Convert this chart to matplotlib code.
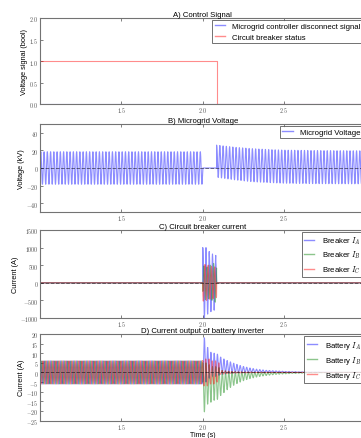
import numpy as np
import matplotlib
matplotlib.use("Agg")
from matplotlib import pyplot as plt
from matplotlib.ticker import FuncFormatter

plt.rcParams['font.family'] = ['Liberation Sans', 'DejaVu Sans']
plt.rcParams['mathtext.fontset'] = 'cm'

# --- Données ---
freq = 50.0          # Hz
t_fault = 2.0        # début du défaut (s)
t_open = 2.085       # ouverture du disjoncteur (s)

# A) signaux de commande
signal_t = [1.0, 2.085, 2.085, 3.0]
breaker_status = [1, 1, 0, 0]
controller_signal = [0, 0, 0, 0]

# B) tension du micro-réseau (kV)
v_amplitude = 18.5
v_env_t = [2.085, 2.2, 2.3, 2.4, 2.5, 2.7, 3.0]
v_env_upper = [26, 23.5, 22, 21, 20.3, 19.8, 19.5]
v_env_lower = [-10.5, -13.5, -15.5, -16.5, -17.3, -17.8, -18]

# C) courant disjoncteur, amplitude par cycle pendant le défaut (A)
brk_amp_A = [1000, 890, 820, 780, 600]
brk_amp_B = [480, 450, 500, 550, 500]
brk_amp_C = [520, 500, 470, 450, 420]

# D) courant onduleur batterie (A)
bat_amplitude = 6.0
bat_A_max = [18, 13, 10.5, 10, 9.5, 8, 7, 6.2, 5.5, 4.8, 4.2, 3.6, 3.1, 2.7, 2.3, 2.0, 1.7, 1.5, 1.3, 1.1,
             1.0, 0.9, 0.8, 0.7, 0.6, 0.5, 0.5, 0.4, 0.4, 0.3, 0.3, 0.3, 0.2, 0.2, 0.2, 0.2, 0.1, 0.1, 0.1, 0.1]
bat_A_min = [-5, -3, -2, -2, -1.5, -1, -0.8, -0.6, -0.5, -0.4, -0.3, -0.3, -0.2, -0.2, -0.2, -0.1, -0.1, -0.1, -0.1, -0.1,
             0, 0, 0, 0, 0, 0, 0, 0, 0, 0, 0, 0, 0, 0, 0, 0, 0, 0, 0, 0]
bat_B_min = [-20.5, -16.5, -15.5, -14.5, -14, -12, -10.5, -9, -7.8, -6.7, -5.8, -5, -4.3, -3.7, -3.2, -2.8, -2.4, -2.1, -1.8, -1.6,
             -1.4, -1.2, -1.0, -0.9, -0.8, -0.7, -0.6, -0.5, -0.5, -0.4, -0.4, -0.3, -0.3, -0.3, -0.2, -0.2, -0.2, -0.1, -0.1, -0.1]
bat_B_max = [5, 4, 3, 3, 2.5, 1, 0.8, 0.6, 0.5, 0.4, 0.3, 0.3, 0.2, 0.2, 0.2, 0.1, 0.1, 0.1, 0.1, 0.1,
             0, 0, 0, 0, 0, 0, 0, 0, 0, 0, 0, 0, 0, 0, 0, 0, 0, 0, 0, 0]
bat_C_amp = [7, 7, 6, 6, 5, 1, 0.8, 0.6, 0.5, 0.4, 0.3, 0.3, 0.2, 0.2, 0.2, 0.1, 0.1, 0.1, 0.1, 0.1,
             0, 0, 0, 0, 0, 0, 0, 0, 0, 0, 0, 0, 0, 0, 0, 0, 0, 0, 0, 0]

# --- Reconstruction des formes d'onde ---
t = np.linspace(1.0, 3.0, 12001)
w = 2 * np.pi * freq
before = t < t_fault
k = np.floor((t - t_fault) * freq).astype(int)


def par_cycle(valeurs):
    v = np.zeros_like(t)
    ok = (k >= 0) & (k < len(valeurs))
    v[ok] = np.asarray(valeurs, dtype=float)[k[ok]]
    return v


bump = (1 - np.cos(w * (t - t_fault))) / 2

# tension
upper = np.interp(t, v_env_t, v_env_upper)
lower = np.interp(t, v_env_t, v_env_lower)
voltage = np.where(before, v_amplitude * np.sin(w * t), 0.0)
after = t >= t_open
voltage[after] = (lower + (upper - lower) * (1 + np.sin(w * (t - t_open) + np.pi / 2)) / 2)[after]

# disjoncteur
fault = (t >= t_fault) & (t < t_open)
ph = w * (t - t_fault)
brk_A = np.where(fault, par_cycle(brk_amp_A) * np.sin(ph + np.pi / 2), 0.0)
brk_B = np.where(fault, par_cycle(brk_amp_B) * np.sin(ph - np.pi / 6), 0.0)
brk_C = np.where(fault, par_cycle(brk_amp_C) * np.sin(ph + 7 * np.pi / 6), 0.0)

# batterie
aMax, aMin = par_cycle(bat_A_max), par_cycle(bat_A_min)
bMax, bMin = par_cycle(bat_B_max), par_cycle(bat_B_min)
bat_A = np.where(before, bat_amplitude * np.sin(w * t), aMin + (aMax - aMin) * bump)
bat_B = np.where(before, bat_amplitude * np.sin(w * t - 2 * np.pi / 3), bMax - (bMax - bMin) * bump)
bat_C = np.where(before, bat_amplitude * np.sin(w * t + 2 * np.pi / 3),
                 par_cycle(bat_C_amp) * np.sin(w * (t - t_fault) + 2 * np.pi / 3))

# --- Figure ---
W, H = 361, 439
fig = plt.figure(figsize=(W / 100, H / 100), dpi=100)


def axe(top, bottom):
    left, right = 40, 365.5
    return fig.add_axes([left / W, 1 - bottom / H, (right - left) / W, (bottom - top) / H])


def math_fmt(fmt):
    return FuncFormatter(lambda v, p: "$" + (fmt % v) + "$")


axes = [axe(19, 105), axe(125, 213), axe(231, 319), axe(335, 421.5)]
lw = 0.8
al = 0.45
fs = 5.6

ax = axes[0]
ax.plot(signal_t, controller_signal, color='b', lw=lw, alpha=al, label="Microgrid controller disconnect signal")
ax.plot(signal_t, breaker_status, color='r', lw=lw, alpha=al, label="Circuit breaker status")
ax.set_ylim(0, 2)
ax.set_yticks([0, 0.5, 1.0, 1.5, 2.0])
ax.yaxis.set_major_formatter(math_fmt("%.1f"))
ax.set_ylabel("Voltage signal (bool)", fontsize=5.3, labelpad=0.8)
ax.set_title("A) Control Signal", fontsize=fs, pad=1.5)

ax = axes[1]
ax.plot(t, voltage, color='b', lw=lw, alpha=al, label="Microgrid Voltage")
ax.set_ylim(-50, 50)
ax.set_yticks([-40, -20, 0, 20, 40])
ax.yaxis.set_major_formatter(math_fmt("%d"))
ax.set_ylabel("Voltage (kV)", fontsize=5.3, labelpad=0.8)
ax.set_title("B) Microgrid Voltage", fontsize=fs, pad=1.5)

ax = axes[2]
ax.plot(t, brk_A, color='b', lw=lw, alpha=al, label="Breaker $I_A$")
ax.plot(t, brk_B, color='g', lw=lw, alpha=al, label="Breaker $I_B$")
ax.plot(t, brk_C, color='r', lw=lw, alpha=al, label="Breaker $I_C$")
ax.set_ylim(-1000, 1500)
ax.set_yticks(range(-1000, 1501, 500))
ax.yaxis.set_major_formatter(math_fmt("%d"))
ax.set_ylabel("Current (A)", fontsize=5.3, labelpad=0.8)
ax.set_title("C) Circuit breaker current", fontsize=fs, pad=1.5)

ax = axes[3]
ax.plot(t, bat_A, color='b', lw=lw, alpha=al, label="Battery $I_A$")
ax.plot(t, bat_B, color='g', lw=lw, alpha=al, label="Battery $I_B$")
ax.plot(t, bat_C, color='r', lw=lw, alpha=al, label="Battery $I_C$")
ax.set_ylim(-25, 20)
ax.set_yticks(range(-25, 21, 5))
ax.yaxis.set_major_formatter(math_fmt("%d"))
ax.set_ylabel("Current (A)", fontsize=5.3, labelpad=0.8)
ax.set_xlabel("Time (s)", fontsize=5.0, labelpad=0.2)
ax.set_title("D) Current output of battery inverter", fontsize=fs, pad=1.5)

for i, ax in enumerate(axes):
    if i > 0:
        ax.axhline(0, color='k', ls='--', lw=0.7, alpha=0.5)
    ax.set_xlim(1.0, 3.0)
    ax.set_xticks([1.5, 2.0, 2.5])
    ax.xaxis.set_major_formatter(math_fmt("%.1f"))
    ax.tick_params(direction='in', top=True, right=True, length=2.5, width=0.5,
                   labelsize=4.3, pad=1.0, colors='0.3')
    for s in ax.spines.values():
        s.set_color('0.45')
        s.set_linewidth(0.8)
    leg = ax.legend(loc='upper right', fontsize=fs, handlelength=1.3, handletextpad=1.0,
                    borderaxespad=0.3, fancybox=False, labelspacing=0.4, borderpad=0.3)
    leg.get_frame().set_edgecolor('0.3')
    leg.get_frame().set_linewidth(0.7)
    for l in leg.get_lines():
        l.set_linewidth(1.0)

fig.savefig("out.png", dpi=100)
